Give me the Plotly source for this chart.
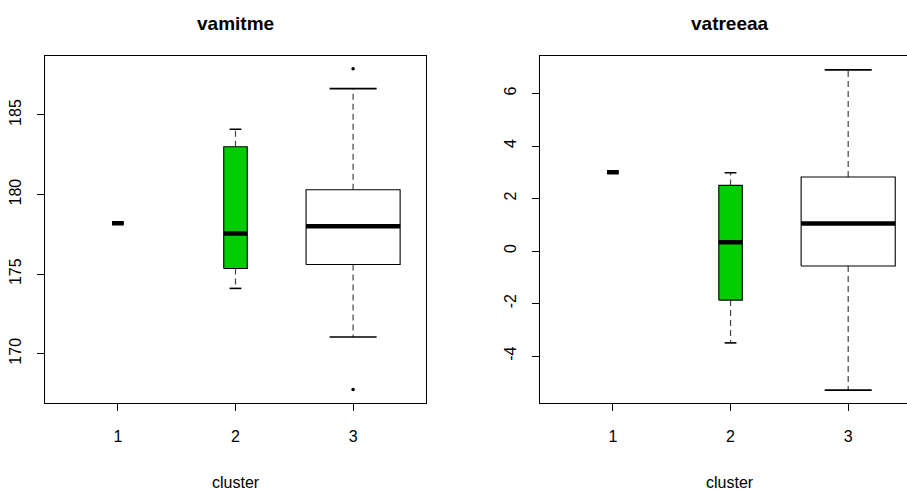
import plotly.graph_objects as go

# Cluster labels
clusters = [1, 2, 3]

# vamitme: five-number summaries per cluster
vamitme_lower = [178.2, 174.1, 171.05]
vamitme_q1 = [178.2, 175.35, 175.6]
vamitme_median = [178.2, 177.55, 178.0]
vamitme_q3 = [178.2, 183.0, 180.3]
vamitme_upper = [178.2, 184.1, 186.65]
vamitme_outliers = [[], [], [187.9, 167.75]]

# vatreeaa: five-number summaries per cluster
vatreeaa_lower = [3.0, -3.5, -5.3]
vatreeaa_q1 = [3.0, -1.87, -0.57]
vatreeaa_median = [3.0, 0.33, 1.05]
vatreeaa_q3 = [3.0, 2.5, 2.82]
vatreeaa_upper = [3.0, 2.98, 6.9]
vatreeaa_outliers = [[], [], []]

# Tick labels
vamitme_ticks = [170, 175, 180, 185]
vatreeaa_ticks = [-4, -2, 0, 2, 4, 6]

# Styling
box_widths = [0.1, 0.2, 0.8]
box_fills = ["white", "#00CD00", "white"]
FONT = "Liberation Sans, Arial, Helvetica, sans-serif"
W, H = 907, 492

fig = go.Figure()


def add_boxes(xa, ya, lower, q1, med, q3, upper, outliers):
    for i, c in enumerate(clusters):
        w = box_widths[i]
        l, r = c - w / 2, c + w / 2
        common = dict(xaxis=xa, yaxis=ya, showlegend=False, hoverinfo="skip")
        # whiskers (dashed)
        fig.add_trace(go.Scatter(x=[c, c], y=[q3[i], upper[i]], mode="lines",
                                 line=dict(color="#444", width=1.2, dash="6px,4px"), **common))
        fig.add_trace(go.Scatter(x=[c, c], y=[q1[i], lower[i]], mode="lines",
                                 line=dict(color="#444", width=1.2, dash="6px,4px"), **common))
        # staples
        for v in (upper[i], lower[i]):
            fig.add_trace(go.Scatter(x=[c - w / 4, c + w / 4], y=[v, v], mode="lines",
                                     line=dict(color="black", width=1.6), **common))
        # box
        fig.add_trace(go.Scatter(x=[l, r, r, l, l], y=[q1[i], q1[i], q3[i], q3[i], q1[i]],
                                 mode="lines", fill="toself", fillcolor=box_fills[i],
                                 line=dict(color="black", width=1.1), **common))
        # median
        fig.add_trace(go.Scatter(x=[l, r], y=[med[i], med[i]], mode="lines",
                                 line=dict(color="black", width=4.5), **common))
        # outliers
        if outliers[i]:
            fig.add_trace(go.Scatter(x=[c] * len(outliers[i]), y=outliers[i], mode="markers",
                                     marker=dict(color="black", size=3.5), **common))


add_boxes("x", "y", vamitme_lower, vamitme_q1, vamitme_median, vamitme_q3,
          vamitme_upper, vamitme_outliers)
add_boxes("x2", "y2", vatreeaa_lower, vatreeaa_q1, vatreeaa_median, vatreeaa_q3,
          vatreeaa_upper, vatreeaa_outliers)

y_dom = [1 - 403 / H, 1 - 55.7 / H]
axis_common = dict(showgrid=False, zeroline=False, showline=True, linecolor="black",
                   linewidth=1, ticks="outside", ticklen=7, tickcolor="black",
                   tickfont=dict(family=FONT, size=16, color="black"), fixedrange=True)

fig.update_layout(
    width=W, height=H,
    margin=dict(l=0, r=0, t=0, b=0),
    paper_bgcolor="white", plot_bgcolor="white",
    xaxis=dict(domain=[45 / W, 426 / W], range=[0.38, 3.62], anchor="y", mirror=True,
               tickvals=clusters, ticktext=[str(c) for c in clusters],
               ticklabelstandoff=12, **axis_common),
    yaxis=dict(domain=y_dom, range=[166.9, 188.72], anchor="x", mirror=True,
               tickvals=vamitme_ticks, ticktext=[str(t) for t in vamitme_ticks],
               tickangle=-90, ticklabelstandoff=10, **axis_common),
    xaxis2=dict(domain=[540 / W, 1.0], range=[0.38, 3.50], anchor="y2", mirror=True,
                tickvals=clusters, ticktext=[str(c) for c in clusters],
                ticklabelstandoff=12, **axis_common),
    yaxis2=dict(domain=y_dom, range=[-5.79, 7.44], anchor="x2", mirror=False,
                tickvals=vatreeaa_ticks, ticktext=[str(t) for t in vatreeaa_ticks],
                tickangle=-90, ticklabelstandoff=10, **axis_common),
)

titles = [("vamitme", 235.5), ("vatreeaa", 729.5)]
for text, cx in titles:
    fig.add_annotation(text=f"<b>{text}</b>", x=cx / W, y=1 - 23 / H, xref="paper", yref="paper",
                       showarrow=False, xanchor="center", yanchor="middle",
                       font=dict(family=FONT, size=19, color="black"))
    fig.add_annotation(text="cluster", x=cx / W, y=1 - 482 / H, xref="paper", yref="paper",
                       showarrow=False, xanchor="center", yanchor="middle",
                       font=dict(family=FONT, size=16, color="black"))

fig.write_html("out.html")
